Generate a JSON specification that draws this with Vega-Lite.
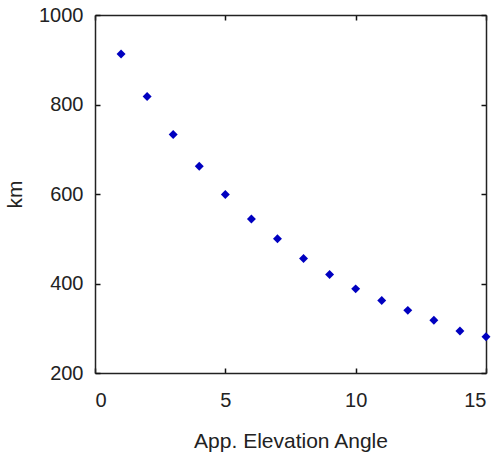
{
  "$schema": "https://vega.github.io/schema/vega-lite/v6.json",
  "autosize": "none",
  "width": 391,
  "height": 358,
  "padding": {"left": 95, "top": 15, "right": 12, "bottom": 84},
  "background": "white",
  "config": {
    "view": {"stroke": null},
    "axis": {
      "grid": false,
      "domainColor": "#222222",
      "domainWidth": 1.5,
      "tickColor": "#111111",
      "tickWidth": 1.5,
      "tickSize": -5,
      "labelFont": "Liberation Sans",
      "labelFontSize": 20,
      "labelColor": "#222222",
      "titleFont": "Liberation Sans",
      "titleFontSize": 21,
      "titleFontWeight": "normal",
      "titleColor": "#222222"
    }
  },
  "data": {
    "values": [
      {"angle": 1, "km": 913},
      {"angle": 2, "km": 818},
      {"angle": 3, "km": 733},
      {"angle": 4, "km": 662},
      {"angle": 5, "km": 599},
      {"angle": 6, "km": 544},
      {"angle": 7, "km": 500},
      {"angle": 8, "km": 456},
      {"angle": 9, "km": 420},
      {"angle": 10, "km": 388},
      {"angle": 11, "km": 362},
      {"angle": 12, "km": 340},
      {"angle": 13, "km": 318},
      {"angle": 14, "km": 294},
      {"angle": 15, "km": 281}
    ]
  },
  "layer": [
    {
      "mark": {"type": "point", "shape": "diamond", "filled": true, "size": 80, "color": "#0000c0", "opacity": 1},
      "encoding": {
        "x": {"field": "angle", "type": "quantitative",
              "scale": {"domain": [0, 15], "nice": false, "zero": false},
              "axis": {"orient": "bottom", "values": [0, 5, 10, 15], "format": "d", "title": "App. Elevation Angle", "labelPadding": 22, "titlePadding": 20}},
        "y": {"field": "km", "type": "quantitative",
              "scale": {"domain": [200, 1000], "nice": false, "zero": false},
              "axis": {"orient": "left", "values": [200, 400, 600, 800, 1000], "format": "d", "title": "km", "labelPadding": 17, "titlePadding": 13}}
      }
    },
    {
      "mark": {"type": "point", "opacity": 0},
      "encoding": {
        "x": {"field": "angle", "type": "quantitative",
              "axis": {"orient": "top", "values": [0, 5, 10, 15], "labels": false, "title": null}},
        "y": {"field": "km", "type": "quantitative",
              "axis": {"orient": "right", "values": [200, 400, 600, 800, 1000], "labels": false, "title": null}}
      }
    }
  ],
  "resolve": {"axis": {"x": "independent", "y": "independent"}}
}
